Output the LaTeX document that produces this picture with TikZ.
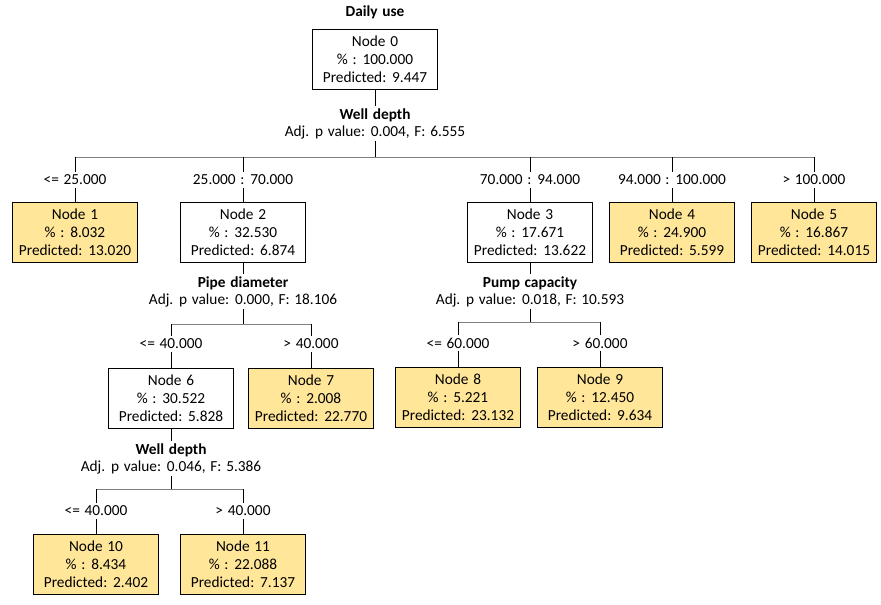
\documentclass[tikz,border=0pt]{standalone}
\usepackage{fontspec}
\setmainfont{Carlito}[WordSpace=1.35]
\usepackage{tikz}
\usetikzlibrary{positioning}

\definecolor{leafyellow}{RGB}{255,230,153}
\definecolor{bargray}{RGB}{128,128,128}

\begin{document}
\begin{tikzpicture}[
      x=0.75pt, y=-0.75pt,
      font=\fontsize{11.5}{13.5}\selectfont,
      inner box/.style={rectangle, draw, fill=white, minimum width=93.75pt, minimum height=45pt, align=center, inner sep=1pt},
      leaf/.style={inner box, fill=leafyellow},
      split/.style={font=\fontsize{11.5}{13.5}\selectfont\bfseries, inner sep=1.5pt},
      stat/.style={inner sep=1.5pt},
      cond/.style={inner sep=2pt},
      bar/.style={draw=bargray},
    ]
      \useasboundingbox (0,0) rectangle (881,604);

      % root
      \node[split] (t0) at (375,12) {Daily use};
      \node[inner box] (n0) at (375,59) {Node 0\\\% : 100.000\\Predicted: 9.447};
      \node[split] (v0) at (375,115) {Well depth};
      \node[stat] (a0) at (375,132) {Adj. p value: 0.004, F: 6.555};
      \coordinate (b0) at (375,157);

      % first level
      \node[cond] (l1) at (75,180) {<= 25.000};
      \node[cond] (l2) at (243,180) {25.000 : 70.000};
      \node[cond] (l3) at (530,180) {70.000 : 94.000};
      \node[cond] (l4) at (672,180) {94.000 : 100.000};
      \node[cond] (l5) at (814,180) {> 100.000};
      \node[leaf]      (n1) at (75,232)  {Node 1\\\% : 8.032\\Predicted: 13.020};
      \node[inner box] (n2) at (243,232) {Node 2\\\% : 32.530\\Predicted: 6.874};
      \node[inner box] (n3) at (530,232) {Node 3\\\% : 17.671\\Predicted: 13.622};
      \node[leaf]      (n4) at (672,232) {Node 4\\\% : 24.900\\Predicted: 5.599};
      \node[leaf]      (n5) at (814,232) {Node 5\\\% : 16.867\\Predicted: 14.015};

      % node 2 split
      \node[split] (v2) at (243,283) {Pipe diameter};
      \node[stat] (a2) at (243,300) {Adj. p value: 0.000, F: 18.106};
      \coordinate (b2) at (243,324);
      \node[cond] (l6) at (171,344) {<= 40.000};
      \node[cond] (l7) at (311,344) {> 40.000};
      \node[inner box] (n6) at (171,398) {Node 6\\\% : 30.522\\Predicted: 5.828};
      \node[leaf]      (n7) at (311,398) {Node 7\\\% : 2.008\\Predicted: 22.770};

      % node 3 split
      \node[split] (v3) at (530,283) {Pump capacity};
      \node[stat] (a3) at (530,300) {Adj. p value: 0.018, F: 10.593};
      \coordinate (b3) at (530,322);
      \node[cond] (l8) at (458,343) {<= 60.000};
      \node[cond] (l9) at (600,343) {> 60.000};
      \node[leaf] (n8) at (458,397) {Node 8\\\% : 5.221\\Predicted: 23.132};
      \node[leaf] (n9) at (600,397) {Node 9\\\% : 12.450\\Predicted: 9.634};

      % node 6 split
      \node[split] (v6) at (171,450) {Well depth};
      \node[stat] (a6) at (171,467) {Adj. p value: 0.046, F: 5.386};
      \coordinate (b6) at (171,489);
      \node[cond] (l10) at (96,511) {<= 40.000};
      \node[cond] (l11) at (243,511) {> 40.000};
      \node[leaf] (n10) at (96,564)  {Node 10\\\% : 8.434\\Predicted: 2.402};
      \node[leaf] (n11) at (243,564) {Node 11\\\% : 22.088\\Predicted: 7.137};

      % connectors
      \draw (n0) -- (v0);
      \draw (a0) -- (b0);
      \draw[bar] (l1 |- b0) -- (l5 |- b0);
      \draw (l1 |- b0) -- (l1);
      \draw (l2 |- b0) -- (l2);
      \draw (l3 |- b0) -- (l3);
      \draw (l4 |- b0) -- (l4);
      \draw (l5 |- b0) -- (l5);
      \draw (l1) -- (n1);
      \draw (l2) -- (n2);
      \draw (l3) -- (n3);
      \draw (l4) -- (n4);
      \draw (l5) -- (n5);

      \draw (n2) -- (v2);
      \draw (a2) -- (b2);
      \draw[bar] (l6 |- b2) -- (l7 |- b2);
      \draw (l6 |- b2) -- (l6);
      \draw (l7 |- b2) -- (l7);
      \draw (l6) -- (n6);
      \draw (l7) -- (n7);

      \draw (n3) -- (v3);
      \draw (a3) -- (b3);
      \draw[bar] (l8 |- b3) -- (l9 |- b3);
      \draw (l8 |- b3) -- (l8);
      \draw (l9 |- b3) -- (l9);
      \draw (l8) -- (n8);
      \draw (l9) -- (n9);

      \draw (n6) -- (v6);
      \draw (a6) -- (b6);
      \draw[bar] (l10 |- b6) -- (l11 |- b6);
      \draw (l10 |- b6) -- (l10);
      \draw (l11 |- b6) -- (l11);
      \draw (l10) -- (n10);
      \draw (l11) -- (n11);
    \end{tikzpicture}
\end{document}
